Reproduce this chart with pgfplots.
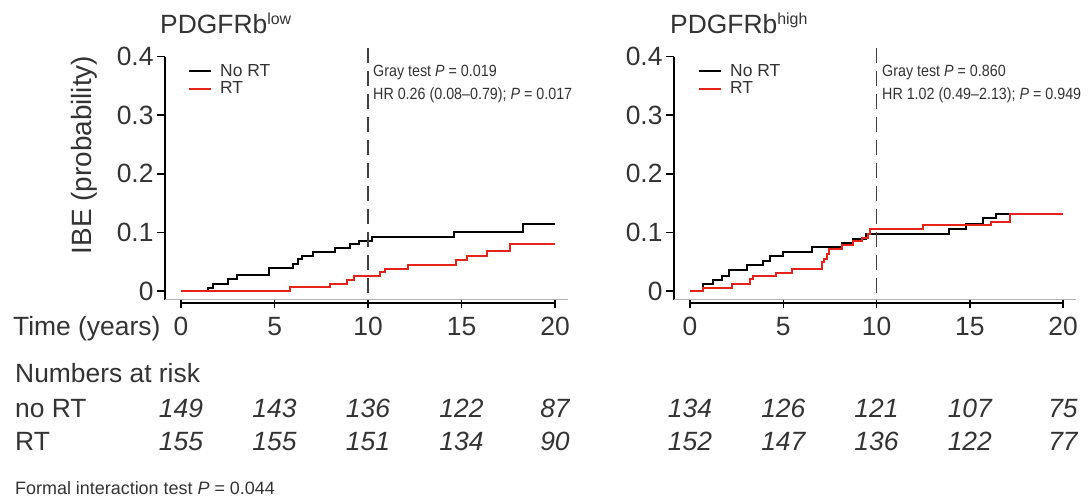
\documentclass[border=0pt]{standalone}
\usepackage{pgfplots}
\pgfplotsset{compat=1.18}
\usepackage{fontspec}
\setmainfont{Liberation Sans}
\newfontfamily\narrowfont[FakeStretch=0.88, Ligatures=TeX]{Liberation Sans}
\definecolor{rtred}{HTML}{E5231B}
\definecolor{txt}{HTML}{333333}
\newcommand{\fA}{\fontsize{26.5}{30}\selectfont}
\newcommand{\fL}{\fontsize{17.5}{20}\selectfont}
\newcommand{\fN}{\narrowfont\fontsize{16.3}{18}\selectfont}
\newcommand{\fF}{\fontsize{18}{21}\selectfont}

\pgfplotsset{
  km/.style={
    scale only axis, clip=false,
    axis line style={draw=none},
    xmin=-0.86, xmax=20.7, ymin=-0.0154, ymax=0.42,
    height=255.1bp,
    xtick={0,5,10,15,20}, ytick={0,0.1,0.2,0.3,0.4},
    tick pos=left,
    tick align=outside, major tick length=8bp,
    tick style={black, line width=1.5bp},
    ticklabel style={font=\fA, text=txt},
    xticklabel style={yshift=-6bp},
    /pgf/number format/assume math mode=true,
    legend cell align=left,
    legend image code/.code={\draw[#1] (0bp,0bp) -- (22bp,0bp);},
    legend style={draw=none, fill=none, inner sep=0pt, font=\fL, text=txt,
      row sep=3.6bp, column sep=8bp, nodes={inner sep=0pt}},
  },
  nort/.style={black, line width=2bp, const plot, no marks},
  rt/.style={rtred, line width=2bp, const plot, no marks},
}

\begin{document}
\begin{tikzpicture}
\useasboundingbox (0bp,0bp) rectangle (1091bp,499bp);

% PDGFRb low
\begin{axis}[km, at={(165bp,199bp)}, anchor=south west, width=403.2bp,
  legend style={at={(0.057,0.9232)}, anchor=north west}]
\addplot[nort] coordinates {(0,0) (1.46,0.0056) (1.73,0.0124) (2.53,0.0198) (3.01,0.0266)
  (4.72,0.0395) (6.01,0.046) (6.27,0.054) (6.45,0.059) (7.08,0.066) (8.24,0.073)
  (9.04,0.080) (9.54,0.086) (10.2,0.092) (14.6,0.100) (18.27,0.114) (20,0.114)};
\addplot[rt] coordinates {(0,0) (5.83,0.0068) (7.97,0.0124) (8.86,0.0186) (9.22,0.0254)
  (10.64,0.033) (10.91,0.038) (12.16,0.044) (14.71,0.0525) (15.28,0.060) (16.35,0.069)
  (17.59,0.080) (20,0.080)};
\legend{No RT, RT}
\draw[black, line width=1.5bp] (axis cs:-0.86,0.4) -- (axis cs:-0.86,-0.0154);
\draw[gray!60, line width=1bp] (axis cs:-0.86,-0.0154) -- (axis cs:20.7,-0.0154);
\draw[black, line width=2bp] (axis cs:0,-0.0197) -- (axis cs:20,-0.0197);
\draw[black!75, line width=1.3bp, dash pattern=on 15bp off 8bp] (axis cs:10,0.415) -- (axis cs:10,-0.0154);
\end{axis}

% PDGFRb high
\begin{axis}[km, at={(674bp,199bp)}, anchor=south west, width=402.1bp,
  legend style={at={(0.0597,0.9232)}, anchor=north west}]
\addplot[nort] coordinates {(0,0) (0.71,0.0115) (1.25,0.018) (1.70,0.026) (2.11,0.036)
  (3.07,0.044) (3.93,0.052) (4.29,0.059) (5.0,0.067) (6.52,0.075) (8.13,0.082)
  (8.75,0.089) (9.46,0.097) (13.9,0.105) (14.82,0.114) (15.71,0.124) (16.39,0.132) (20,0.132)};
\addplot[rt] coordinates {(0,0) (0.71,0.0058) (2.23,0.0127) (3.21,0.0196) (3.39,0.0253)
  (4.61,0.0305) (5.45,0.0374) (7.05,0.049) (7.18,0.0547) (7.32,0.063) (7.46,0.072)
  (8.13,0.078) (8.75,0.086) (9.2,0.091) (9.55,0.097) (9.64,0.105) (12.5,0.112)
  (16.16,0.118) (17.14,0.132) (20,0.132)};
\legend{No RT, RT}
\draw[black, line width=1.5bp] (axis cs:-0.86,0.4) -- (axis cs:-0.86,-0.0154);
\draw[gray!60, line width=1bp] (axis cs:-0.86,-0.0154) -- (axis cs:20.7,-0.0154);
\draw[black, line width=2bp] (axis cs:0,-0.0197) -- (axis cs:20,-0.0197);
\draw[black!75, line width=1.3bp, dash pattern=on 15bp off 8bp] (axis cs:10,0.415) -- (axis cs:10,-0.0154);
\end{axis}

\begin{scope}[x=1bp, y=1bp, every node/.style={inner sep=0pt, text=txt}]
\node[anchor=base west, font=\fA] at (160,465) {PDGFRb\raisebox{9bp}{\fontsize{16}{16}\selectfont low}};
\node[anchor=base west, font=\fA] at (670,465) {PDGFRb\raisebox{9bp}{\fontsize{16}{16}\selectfont high}};
\node[rotate=90, font=\fontsize{28}{32}\selectfont] at (84.5,344) {IBE (probability)};

\node[anchor=base west, font=\fN] at (373,422) {Gray test \textit{P} = 0.019};
\node[anchor=base west, font=\fN] at (373,399) {HR 0.26 (0.08–0.79); \textit{P} = 0.017};
\node[anchor=base west, font=\fN] at (882,422) {Gray test \textit{P} = 0.860};
\node[anchor=base west, font=\fN] at (882,399) {HR 1.02 (0.49–2.13); \textit{P} = 0.949};

\node[anchor=base west, font=\fA] at (13,164) {Time (years)};
\node[anchor=base west, font=\fA] at (15,117) {Numbers at risk};
\node[anchor=base west, font=\fA] at (15,82) {no RT};
\node[anchor=base west, font=\fA] at (15,49) {RT};
\foreach \x/\a/\b in {181/149/155, 274.5/143/155, 368/136/151, 461.5/122/134, 555/87/90,
                      690/134/152, 783.3/126/147, 876.5/121/136, 969.8/107/122, 1063/75/77} {
  \node[anchor=base, font=\fA\itshape] at (\x,82) {\a};
  \node[anchor=base, font=\fA\itshape] at (\x,49) {\b};
}
\node[anchor=base west, font=\fF] at (15,5) {Formal interaction test \textit{P} = 0.044};
\end{scope}
\end{tikzpicture}
\end{document}
